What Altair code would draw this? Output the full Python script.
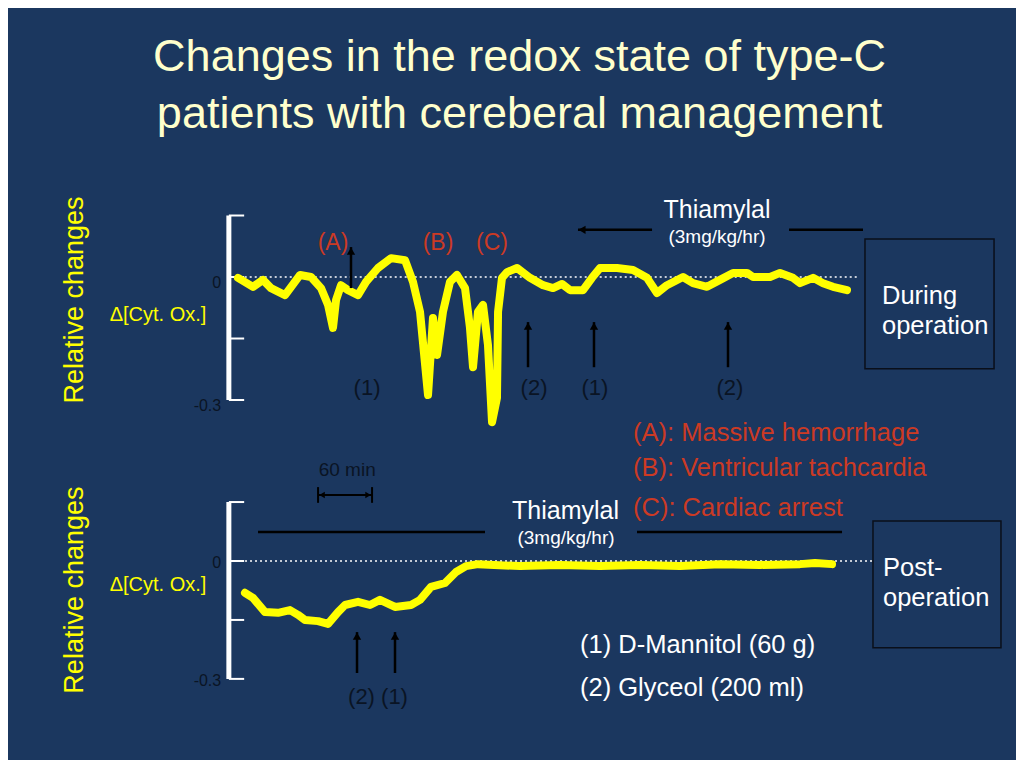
import altair as alt
import pandas as pd

# ---------------- data (time in minutes, value = relative change) ----------------
top_t = [6.7, 23.3, 34.4, 43.3, 58.9, 75.6, 87.8, 98.9, 106.7, 112.2, 115.6, 121.1, 128.9,
         140.0, 148.9, 162.2, 176.7, 192.2, 201.1, 208.9, 217.8, 223.3, 227.8, 234.4, 242.2,
         250.0, 258.9, 264.4, 267.8, 273.3, 278.9, 284.4, 288.9, 294.4, 295.6, 300.0, 305.6,
         316.7, 331.1, 345.6, 356.7, 366.7, 375.6, 390.0, 400.0, 408.9, 427.8, 445.6, 461.1,
         472.2, 483.3, 501.1, 512.2, 527.8, 542.2, 556.7, 572.2, 578.9, 597.8, 608.9, 623.3,
         631.1, 645.6, 656.7, 667.8, 683.3]
top_v = [-0.002, -0.024, -0.007, -0.027, -0.044, 0.005, 0.000, -0.027, -0.068, -0.124, -0.056,
         -0.020, -0.032, -0.044, -0.012, 0.022, 0.046, 0.041, -0.012, -0.085, -0.288, -0.100,
         -0.190, -0.085, -0.012, 0.005, -0.027, -0.124, -0.220, -0.085, -0.068, -0.166, -0.354,
         -0.295, -0.085, -0.002, 0.012, 0.022, -0.002, -0.020, -0.027, -0.017, -0.032, -0.032,
         -0.002, 0.022, 0.022, 0.017, -0.002, -0.039, -0.020, 0.000, -0.015, -0.024, -0.007,
         0.010, 0.010, 0.000, 0.000, 0.010, -0.002, -0.015, -0.002, -0.015, -0.024, -0.032]

bot_t = [14.4, 23.3, 36.7, 51.1, 64.4, 73.3, 81.1, 95.6, 106.7, 117.8, 125.6, 140.0, 153.3,
         164.4, 181.1, 198.9, 208.9, 221.1, 236.7, 248.9, 260.0, 273.3, 320.0, 364.4, 408.9,
         453.3, 497.8, 542.2, 586.7, 631.1, 647.8, 666.7]
bot_v = [-0.081, -0.094, -0.130, -0.132, -0.125, -0.137, -0.150, -0.153, -0.160, -0.130,
         -0.112, -0.104, -0.112, -0.099, -0.117, -0.112, -0.099, -0.066, -0.056, -0.028,
         -0.013, -0.008, -0.013, -0.010, -0.013, -0.010, -0.013, -0.008, -0.010, -0.008,
         -0.005, -0.008]

tick_values = [0.15, 0.0, -0.15, -0.3]
tick_labels = ["", "0", "", "-0.3"]

title_lines = ["Changes in the redox state of type-C", "patients with cereberal management"]

# annotation anchors (time, value)
event_labels = ["(A)", "(B)", "(C)"]
event_t = [112.2, 228.9, 288.9]
event_v = [0.083, 0.083, 0.083]

top_drug_labels = ["(1)", "(2)", "(1)", "(2)"]
top_drug_label_t = [150.0, 335.6, 403.3, 553.3]
top_drug_label_v = [-0.271, -0.271, -0.271, -0.271]
top_arrow_t = [132.2, 328.9, 402.2, 551.1]
top_arrow_from = [-0.027, -0.220, -0.220, -0.220]
top_arrow_to = [0.073, -0.110, -0.110, -0.110]

legend_top = ["(A): Massive hemorrhage", "(B): Ventricular tachcardia", "(C): Cardiac arrest"]
legend_top_v = [-0.380, -0.466, -0.563]
legend_bot = ["(1) D-Mannitol (60 g)", "(2) Glyceol (200 ml)"]
legend_bot_v = [-0.214, -0.323]

bot_arrow_t = [138.9, 181.1]
bot_arrow_from = [-0.285, -0.285]
bot_arrow_to = [-0.181, -0.181]

BG = "#1B375F"
YEL = "#FFFF00"
RED = "#CC3A24"
DARK = "#0A1424"
WHITE = "#FFFFFF"
FONT = "Liberation Sans"

X_DOMAIN = [-248.9, 871.1]
TOP_DOMAIN = [-0.4341, 0.6561]
BOT_DOMAIN = [-0.5064, 0.2697]
W = 1008


def X(f):
    return alt.X(f, type="quantitative", scale=alt.Scale(domain=X_DOMAIN, nice=False, zero=False), axis=None)


def Y(f, dom):
    return alt.Y(f, type="quantitative", scale=alt.Scale(domain=dom, nice=False, zero=False), axis=None)


def text_layer(dom, labels, ts, vs, color, size, align="center", angle=0, baseline="middle", dy=0):
    df = pd.DataFrame({"label": labels, "t": ts, "v": vs})
    return alt.Chart(df).mark_text(color=color, fontSize=size, align=align, angle=angle,
                                   baseline=baseline, font=FONT, dy=dy).encode(
        x=X("t"), y=Y("v", dom), text="label")


def hrule(dom, t1, t2, vs, color, width, dash=None):
    df = pd.DataFrame({"t1": t1, "t2": t2, "v": vs})
    kw = dict(color=color, strokeWidth=width)
    if dash:
        kw["strokeDash"] = dash
    return alt.Chart(df).mark_rule(**kw).encode(x=X("t1"), x2="t2", y=Y("v", dom))


def vrule(dom, ts, v1, v2, color, width):
    df = pd.DataFrame({"t": ts, "v1": v1, "v2": v2})
    return alt.Chart(df).mark_rule(color=color, strokeWidth=width, strokeCap="butt").encode(
        x=X("t"), y=Y("v1", dom), y2="v2")


def heads(dom, ts, vs, shape, xo=0, yo=0, size=70):
    df = pd.DataFrame({"t": ts, "v": vs})
    return alt.Chart(df).mark_point(shape=shape, filled=True, color="black", size=size,
                                    opacity=1, xOffset=xo, yOffset=yo).encode(
        x=X("t"), y=Y("v", dom))


def box(dom, t1, t2, v1, v2):
    df = pd.DataFrame({"t1": [t1], "t2": [t2], "v1": [v1], "v2": [v2]})
    return alt.Chart(df).mark_rect(filled=False, stroke="#0A0F1A", strokeWidth=1.5).encode(
        x=X("t1"), x2="t2", y=Y("v1", dom), y2="v2")


def axis_layers(dom, ylab_v, unit_v, label_dy):
    n = len(tick_values)
    return [
        vrule(dom, [-3.5], [min(tick_values)], [max(tick_values)], WHITE, 5),
        hrule(dom, [-3.5] * n, [13.5] * n, tick_values, WHITE, 2),
        text_layer(dom, tick_labels, [-12.0] * n, tick_values, DARK, 16, align="right", dy=label_dy),
        text_layer(dom, ["Relative changes"], [-174.4], [ylab_v], YEL, 27, angle=270),
        text_layer(dom, ["\u0394[Cyt. Ox.]"], [-82.2], [unit_v], YEL, 20),
    ]


def trace(dom, ts, vs):
    df = pd.DataFrame({"t": ts, "v": vs})
    return alt.Chart(df).mark_line(color=YEL, strokeWidth=8, strokeJoin="round", strokeCap="round").encode(
        x=X("t"), y=Y("v", dom))


# ---------------- top panel ----------------
D = TOP_DOMAIN
top_layers = [
    text_layer(D, title_lines, [319.5, 319.5], [0.502, 0.364], "#FFFFCC", 45, baseline="alphabetic"),
    hrule(D, [3.0], [696.0], [0.0], WHITE, 1.5, dash=[2, 3]),
] + axis_layers(D, -0.056, -0.093, 6) + [
    trace(D, top_t, top_v),
    text_layer(D, event_labels, event_t, event_v, RED, 23),
    vrule(D, top_arrow_t, top_arrow_from, top_arrow_to, "black", 2.5),
    heads(D, top_arrow_t, top_arrow_to, "triangle-up", yo=4),
    text_layer(D, top_drug_labels, top_drug_label_t, top_drug_label_v, DARK, 22),
    text_layer(D, ["Thiamylal"], [538.9], [0.163], WHITE, 25),
    text_layer(D, ["(3mg/kg/hr)"], [538.9], [0.098], WHITE, 19),
    hrule(D, [384.4, 618.9], [466.7, 701.1], [0.115, 0.115], "black", 2.5),
    heads(D, [384.4], [0.115], "triangle-left", xo=4),
    box(D, 703.3, 846.7, 0.093, -0.224),
    text_layer(D, ["During", "operation"], [722.2, 722.2], [-0.046, -0.120], WHITE, 25.5, align="left"),
    text_layer(D, legend_top, [445.6] * 3, legend_top_v, RED, 25.5, align="left"),
]
top = alt.layer(*top_layers).properties(width=W, height=447)

# ---------------- bottom panel ----------------
D = BOT_DOMAIN
bot_layers = [
    hrule(D, [8.9], [714.4], [0.0], WHITE, 1.5, dash=[2, 3]),
] + axis_layers(D, -0.074, -0.061, 2) + [
    trace(D, bot_t, bot_v),
    text_layer(D, ["60 min"], [128.0], [0.232], DARK, 19),
    hrule(D, [95.6], [155.6], [0.168], "black", 2),
    vrule(D, [95.6, 155.6], [0.148, 0.148], [0.188, 0.188], "black", 2),
    heads(D, [95.6], [0.168], "triangle-left", xo=4, size=40),
    heads(D, [155.6], [0.168], "triangle-right", xo=-4, size=40),
    hrule(D, [28.9, 450.0], [281.1, 677.8], [0.074, 0.074], "black", 2.5),
    text_layer(D, ["Thiamylal"], [370.6], [0.127], WHITE, 25),
    text_layer(D, ["(3mg/kg/hr)"], [371.1], [0.059], WHITE, 19),
    box(D, 712.2, 854.4, 0.102, -0.221),
    text_layer(D, ["Post-", "operation"], [723.3, 723.3], [-0.018, -0.094], WHITE, 25.5, align="left"),
    text_layer(D, legend_bot, [386.7, 386.7], legend_bot_v, WHITE, 25.5, align="left"),
    vrule(D, bot_arrow_t, bot_arrow_from, bot_arrow_to, "black", 2.5),
    heads(D, bot_arrow_t, bot_arrow_to, "triangle-up", yo=4),
    text_layer(D, ["(2) (1)"], [162.2], [-0.346], DARK, 22),
]
bottom = alt.layer(*bot_layers).properties(width=W, height=305)

chart = alt.vconcat(top, bottom, spacing=0, bounds="flush").properties(
    background=BG, padding=0
).configure_view(stroke=None)

chart.save("out.html", embed_options={"renderer": "svg", "actions": False})
